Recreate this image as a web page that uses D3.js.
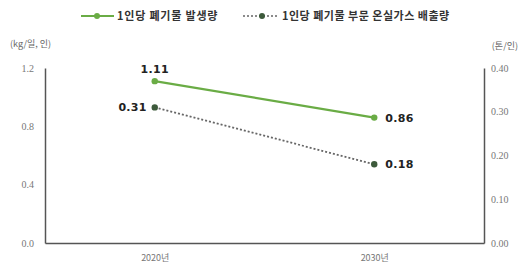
<!DOCTYPE html>
<html>
<head>
<meta charset="utf-8">
<script src="https://cdn.jsdelivr.net/npm/d3@7"></script>
<style>
  body { margin: 0; background: #fff; }
  text { font-family: "Noto Sans CJK KR", "Noto Sans", sans-serif; }
  .tick-lbl { font-family: "Liberation Serif", "DejaVu Serif", serif; font-size: 10px; fill: #777; }
</style>
</head>
<body>
<div id="chart"></div>
<script>
// data
var years = ["2020년", "2030년"];
var wasteGen = [1.11, 0.86];      // kg/일, 인 (left axis)
var ghgEmit = [0.31, 0.18];       // 톤/인 (right axis)
var leftTicks = [0.0, 0.4, 0.8, 1.2];
var rightTicks = [0.00, 0.10, 0.20, 0.30, 0.40];
var seriesNames = ["1인당 폐기물 발생량", "1인당 폐기물 부문 온실가스 배출량"];

var svgWidth = 526, svgHeight = 271;
var margin = {top: 68, right: 42, bottom: 28, left: 45};
var width = svgWidth - margin.left - margin.right;
var height = svgHeight - margin.top - margin.bottom;

var green = "#6aac45", dark = "#3d5a3b";

var svg = d3.select("#chart").append("svg")
  .attr("width", svgWidth)
  .attr("height", svgHeight);

var g = svg.append("g").attr("transform", `translate(${margin.left}, ${margin.top})`);

var x = d3.scalePoint().domain(years).range([0, width]).padding(0.5);
var yL = d3.scaleLinear().domain([0, 1.2]).range([height, 0]);
var yR = d3.scaleLinear().domain([0, 0.4]).range([height, 0]);

// axes
var leftAxis = d3.axisLeft(yL).tickValues(leftTicks).tickSize(0).tickPadding(11).tickFormat(d3.format(".1f"));
var rightAxis = d3.axisRight(yR).tickValues(rightTicks).tickSize(0).tickPadding(7).tickFormat(d3.format(".2f"));
var bottomAxis = d3.axisBottom(x).tickSize(0).tickPadding(12);

function styleAxis(sel) {
  sel.select(".domain").attr("stroke", "#555").attr("stroke-width", 1.5);
  sel.selectAll("text").attr("class", "tick-lbl");
}

g.append("g").call(leftAxis).call(styleAxis);
g.append("g").attr("transform", `translate(${width},0)`).call(rightAxis).call(styleAxis);
g.append("g").attr("transform", `translate(0,${height})`).call(bottomAxis).call(styleAxis)
  .selectAll("text").style("font-family", "'Noto Sans CJK KR', sans-serif").style("font-size", "9px");

// unit labels
svg.append("text").attr("x", 10).attr("y", 47).attr("font-size", 9).attr("fill", "#666").text("(kg/일, 인)");
svg.append("text").attr("x", 518).attr("y", 49).attr("text-anchor", "end").attr("font-size", 9).attr("fill", "#666").text("(톤/인)");

// lines
var lineL = d3.line().x((d, i) => x(years[i])).y(d => yL(d));
var lineR = d3.line().x((d, i) => x(years[i])).y(d => yR(d));

g.append("path").datum(wasteGen).attr("d", lineL)
  .attr("fill", "none").attr("stroke", green).attr("stroke-width", 2.2);
g.append("path").datum(ghgEmit).attr("d", lineR)
  .attr("fill", "none").attr("stroke", "#666").attr("stroke-width", 1.8).attr("stroke-dasharray", "2,2");

g.selectAll(".dotL").data(wasteGen).enter().append("circle")
  .attr("cx", (d, i) => x(years[i])).attr("cy", d => yL(d)).attr("r", 3.2).attr("fill", green);
g.selectAll(".dotR").data(ghgEmit).enter().append("circle")
  .attr("cx", (d, i) => x(years[i])).attr("cy", d => yR(d)).attr("r", 3.2).attr("fill", dark);

// value labels
function valLabel(xp, yp, anchor, v) {
  g.append("text").attr("x", xp).attr("y", yp)
    .attr("text-anchor", anchor).attr("font-size", 11).attr("font-weight", "bold").attr("fill", "#222")
    .style("font-family", "'DejaVu Sans', sans-serif").style("letter-spacing", "0.3px")
    .text(v.toFixed(2));
}
valLabel(x(years[0]), yL(wasteGen[0]) - 8, "middle", wasteGen[0]);
valLabel(x(years[1]) + 11, yL(wasteGen[1]) + 4, "start", wasteGen[1]);
valLabel(x(years[0]) - 8, yR(ghgEmit[0]) + 4, "end", ghgEmit[0]);
valLabel(x(years[1]) + 11, yR(ghgEmit[1]) + 4, "start", ghgEmit[1]);

// legend
var lg = svg.append("g").attr("transform", "translate(0,16)");
lg.append("line").attr("x1", 81).attr("x2", 114).attr("y1", 0).attr("y2", 0).attr("stroke", green).attr("stroke-width", 2);
lg.append("circle").attr("cx", 97).attr("cy", 0).attr("r", 3).attr("fill", green);
lg.append("text").attr("x", 117).attr("y", 4).attr("font-size", 11).attr("font-weight", "bold").attr("fill", "#333")
  .style("letter-spacing", "0.8px").text(seriesNames[0]);
lg.append("line").attr("x1", 243).attr("x2", 278).attr("y1", 0).attr("y2", 0).attr("stroke", "#666").attr("stroke-width", 1.6).attr("stroke-dasharray", "2,2");
lg.append("circle").attr("cx", 262).attr("cy", 0).attr("r", 3).attr("fill", dark);
lg.append("text").attr("x", 282).attr("y", 4).attr("font-size", 11).attr("font-weight", "bold").attr("fill", "#333")
  .style("letter-spacing", "0.5px").text(seriesNames[1]);
</script>
</body>
</html>
